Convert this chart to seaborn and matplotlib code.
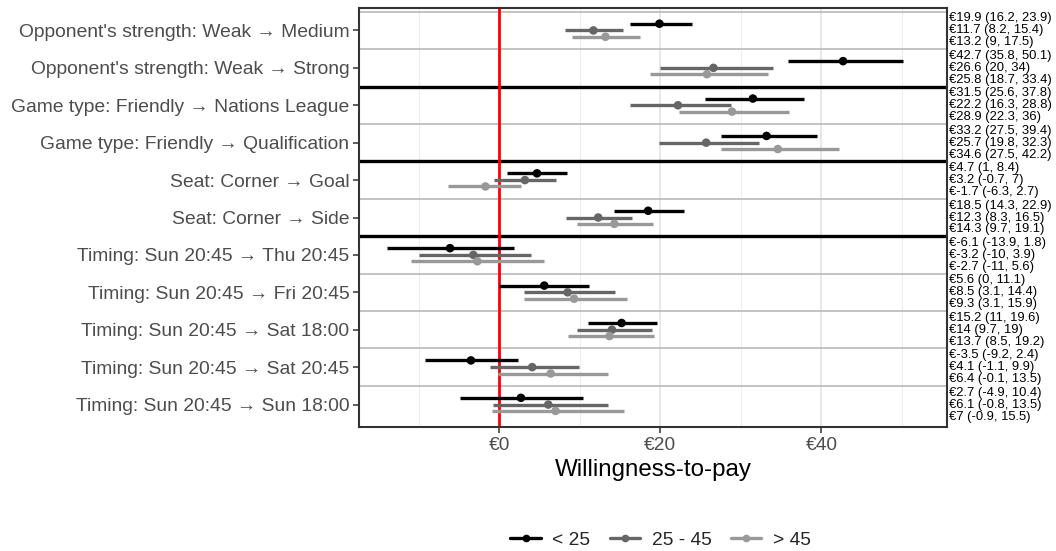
import numpy as np
import pandas as pd
import matplotlib
matplotlib.use("Agg")
import matplotlib.pyplot as plt
from matplotlib.lines import Line2D
import seaborn as sns

attributes = [
    "Opponent's strength: Weak \u2192 Medium",
    "Opponent's strength: Weak \u2192 Strong",
    "Game type: Friendly \u2192 Nations League",
    "Game type: Friendly \u2192 Qualification",
    "Seat: Corner \u2192 Goal",
    "Seat: Corner \u2192 Side",
    "Timing: Sun 20:45 \u2192 Thu 20:45",
    "Timing: Sun 20:45 \u2192 Fri 20:45",
    "Timing: Sun 20:45 \u2192 Sat 18:00",
    "Timing: Sun 20:45 \u2192 Sat 20:45",
    "Timing: Sun 20:45 \u2192 Sun 18:00",
]
groups = ["< 25", "25 - 45", "> 45"]

est_young = [19.9, 42.7, 31.5, 33.2, 4.7, 18.5, -6.1, 5.6, 15.2, -3.5, 2.7]
lo_young = [16.2, 35.8, 25.6, 27.5, 1, 14.3, -13.9, 0, 11, -9.2, -4.9]
hi_young = [23.9, 50.1, 37.8, 39.4, 8.4, 22.9, 1.8, 11.1, 19.6, 2.4, 10.4]

est_mid = [11.7, 26.6, 22.2, 25.7, 3.2, 12.3, -3.2, 8.5, 14, 4.1, 6.1]
lo_mid = [8.2, 20, 16.3, 19.8, -0.7, 8.3, -10, 3.1, 9.7, -1.1, -0.8]
hi_mid = [15.4, 34, 28.8, 32.3, 7, 16.5, 3.9, 14.4, 19, 9.9, 13.5]

est_old = [13.2, 25.8, 28.9, 34.6, -1.7, 14.3, -2.7, 9.3, 13.7, 6.4, 7]
lo_old = [9, 18.7, 22.3, 27.5, -6.3, 9.7, -11, 3.1, 8.5, -0.1, -0.9]
hi_old = [17.5, 33.4, 36, 42.2, 2.7, 19.1, 5.6, 15.9, 19.2, 13.5, 15.5]

x_ticks = [0, 20, 40]
x_tick_labels = ["\u20ac0", "\u20ac20", "\u20ac40"]
x_title = "Willingness-to-pay"

# ---- styling ----
colors = {"< 25": "#000000", "25 - 45": "#666666", "> 45": "#999999"}
offsets = {"< 25": -0.18, "25 - 45": 0.0, "> 45": 0.17}
text_offsets = {"< 25": -0.32, "25 - 45": 0.0, "> 45": 0.32}

sns.set_theme(style="white")
plt.rcParams["font.family"] = ["Liberation Sans", "DejaVu Sans"]

rows = []
for g, est, lo, hi in [("< 25", est_young, lo_young, hi_young),
                       ("25 - 45", est_mid, lo_mid, hi_mid),
                       ("> 45", est_old, lo_old, hi_old)]:
    for i, a in enumerate(attributes):
        rows.append({"attribute": a, "idx": i, "group": g,
                     "est": est[i], "lo": lo[i], "hi": hi[i]})
df = pd.DataFrame(rows)
df["ypos"] = df["idx"] + df["group"].map(offsets)
df["tpos"] = df["idx"] + df["group"].map(text_offsets)

fig = plt.figure(figsize=(10.56, 5.51), dpi=100)
ax = fig.add_axes([359 / 1056, 1 - 427 / 551, (947 - 359) / 1056, (427 - 8) / 551])

# vertical grid
for v in [-10, 10, 30, 50]:
    ax.axvline(v, color="#EEEEEE", lw=0.8, zorder=0)
for v in [0, 20, 40]:
    ax.axvline(v, color="#E6E6E6", lw=1.3, zorder=0)

# horizontal separators
for k in range(len(attributes)):
    yb = k - 0.5
    if k in (2, 4, 6):
        ax.axhline(yb, color="black", lw=2.4, zorder=1)
    else:
        ax.axhline(yb, color="#B3B3B3", lw=1.1, zorder=1)

ax.axvline(0, color="#FF0000", lw=2.0, zorder=2)

for g in groups:
    sub = df[df["group"] == g]
    ax.hlines(sub["ypos"], sub["lo"], sub["hi"], color=colors[g], lw=2.4, zorder=3)

sns.scatterplot(data=df, x="est", y="ypos", hue="group", palette=colors,
                hue_order=groups, s=38, edgecolor="none", legend=False,
                ax=ax, zorder=4)

# annotations on the right
def fmt(v):
    return f"{v:g}"

for _, r in df.iterrows():
    ax.annotate(f"\u20ac{fmt(r['est'])} ({fmt(r['lo'])}, {fmt(r['hi'])})",
                xy=(1.0, r["tpos"]), xycoords=("axes fraction", "data"),
                xytext=(1.5, 0), textcoords="offset points",
                ha="left", va="center", fontsize=9.4, color="black",
                annotation_clip=False)

ax.set_xlim(-17.4, 55.6)
ax.set_ylim(len(attributes) - 1 + 0.6, -0.6)
ax.set_yticks(range(len(attributes)))
ax.set_yticklabels(attributes, fontsize=13.85, color="#4D4D4D")
ax.set_xticks(x_ticks)
ax.set_xticklabels(x_tick_labels, fontsize=13.8, color="#4D4D4D")
ax.set_xlabel(x_title, fontsize=17.4, color="black", labelpad=4)
ax.set_ylabel("")
ax.tick_params(axis="both", length=4, width=1.1, color="#333333", pad=3,
               left=True, bottom=True)
for s in ax.spines.values():
    s.set_color("#333333")
    s.set_linewidth(1.5)
ax.grid(False)

handles = [Line2D([0], [0], color=colors[g], lw=2.4, marker="o", markersize=4.5)
           for g in groups]
fig.legend(handles, groups, loc="center", bbox_to_anchor=(0.6255, 1 - 540 / 551),
           ncol=3, frameon=False, fontsize=13.8, handlelength=1.6,
           columnspacing=1.0, handletextpad=0.6)

fig.savefig("out.png", dpi=100)
